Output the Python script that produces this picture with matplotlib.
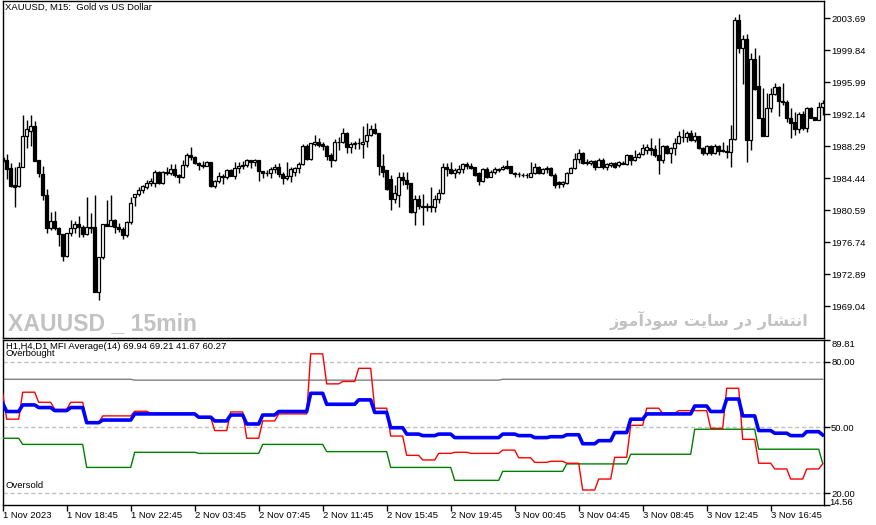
import numpy as np
import matplotlib
matplotlib.use("Agg")
import matplotlib.pyplot as plt

# ---------------- data: XAUUSD M15 candles ----------------
opens = [1986.85,1986.61,1985.65,1983.61,1983.49,1985.77,1989.50,1990.10,1990.70,1986.61,
         1984.93,1982.40,1978.43,1979.27,1978.43,1977.71,1975.06,1977.83,1978.43,1978.91,
         1978.55,1977.71,1978.55,1978.55,1970.73,1974.94,1978.91,1978.67,1979.39,1978.55,
         1978.31,1977.59,1979.15,1982.16,1982.52,1983.00,1983.37,1983.85,1983.85,1985.17,
         1983.85,1985.17,1985.05,1985.53,1984.81,1984.57,1986.01,1987.21,1986.97,1986.25,
         1986.01,1985.89,1986.37,1983.49,1984.09,1984.69,1984.57,1985.41,1984.69,1985.65,
         1985.89,1986.01,1986.61,1986.37,1986.61,1985.29,1985.05,1985.05,1985.53,1985.77,
         1984.93,1984.45,1984.69,1985.17,1985.65,1986.13,1988.30,1986.73,1988.54,1988.78,
         1988.54,1988.30,1987.21,1986.61,1988.78,1988.78,1989.86,1988.18,1988.54,1988.66,
         1988.54,1988.90,1989.62,1990.34,1989.86,1985.89,1985.41,1984.33,1981.92,1982.40,
         1984.57,1984.21,1983.85,1980.36,1981.92,1981.08,1981.02,1981.08,1981.02,1981.92,
         1982.64,1985.77,1985.53,1985.05,1985.17,1985.53,1986.13,1985.89,1985.77,1985.05,
         1984.09,1985.53,1984.57,1985.17,1985.41,1985.53,1985.89,1985.89,1985.05,1984.93,
         1984.81,1984.81,1984.57,1985.05,1985.77,1985.05,1985.53,1985.65,1984.81,1983.97,
         1983.73,1983.85,1985.05,1985.65,1986.73,1987.45,1986.37,1986.25,1986.49,1985.77,
         1986.61,1985.77,1986.01,1986.25,1986.01,1986.13,1986.13,1987.21,1986.61,1986.97,
         1987.33,1987.81,1988.06,1987.94,1987.21,1986.61,1988.30,1987.45,1988.06,1988.66,
         1989.38,1989.38,1989.86,1989.02,1989.50,1988.06,1987.45,1988.30,1987.45,1988.30,
         1987.81,1987.69,1987.57,1989.14,2003.45,2000.09,2001.17,1989.02,1998.76,1995.52,
         1991.67,1989.50,1992.87,1994.55,1995.40,1993.71,1993.59,1991.67,1991.18,1990.34,
         1992.15,1990.46,1992.87,1991.79,1991.42,1992.99]
highs = [1987.09,1987.33,1986.25,1985.77,1986.37,1992.03,1991.42,1992.03,1991.30,1986.61,
         1985.89,1983.13,1980.36,1980.48,1978.55,1977.71,1977.83,1979.39,1979.27,1979.88,
         1978.79,1982.16,1980.24,1982.40,1974.94,1978.91,1981.80,1982.40,1979.51,1979.03,
         1978.55,1979.27,1982.16,1982.52,1983.37,1983.61,1984.21,1984.45,1985.41,1985.29,
         1985.29,1985.77,1986.13,1986.13,1984.93,1986.61,1987.45,1988.18,1987.09,1986.37,
         1986.49,1986.49,1986.37,1984.21,1985.17,1984.93,1985.53,1985.53,1986.37,1986.37,
         1986.49,1986.73,1986.61,1986.73,1986.61,1985.29,1985.41,1985.77,1986.13,1986.25,
         1985.17,1986.37,1985.77,1985.77,1986.37,1988.54,1988.54,1988.66,1989.62,1989.26,
         1988.78,1988.42,1987.45,1989.14,1989.38,1990.46,1989.98,1988.78,1988.90,1989.26,
         1990.70,1991.06,1990.82,1991.06,1989.86,1987.33,1985.41,1984.81,1983.61,1985.17,
         1985.17,1985.17,1983.85,1982.40,1982.40,1982.52,1981.44,1983.37,1982.40,1983.13,
         1986.25,1986.25,1986.37,1985.65,1986.01,1986.25,1986.37,1986.25,1985.77,1985.17,
         1985.65,1985.77,1985.41,1985.77,1985.65,1986.01,1986.61,1985.89,1985.17,1985.17,
         1985.05,1985.05,1986.37,1986.25,1985.89,1985.65,1985.89,1985.77,1985.05,1984.09,
         1984.09,1985.17,1985.77,1987.45,1987.94,1987.57,1986.73,1986.61,1986.61,1986.85,
         1986.85,1986.25,1986.37,1986.37,1986.49,1986.49,1987.33,1987.21,1987.81,1987.57,
         1988.54,1988.54,1989.26,1988.42,1989.26,1988.42,1988.42,1988.18,1989.26,1990.10,
         1990.34,1990.10,1990.22,1989.98,1989.50,1988.18,1988.42,1988.42,1988.54,1988.42,
         1988.78,1988.42,1990.82,2003.82,2004.18,2001.65,2001.77,1999.48,2000.09,1999.24,
         1995.28,1994.67,1995.28,1995.88,1995.52,1995.88,1993.83,1992.87,1992.39,1992.39,
         1992.51,1992.99,1992.99,1991.79,1993.59,1993.83]
lows = [1986.25,1984.33,1983.37,1980.96,1983.37,1985.77,1988.06,1988.30,1986.49,1984.57,
        1981.80,1977.83,1978.19,1978.19,1976.27,1974.46,1974.94,1977.47,1977.83,1977.35,
        1977.35,1977.59,1977.83,1970.73,1969.77,1974.70,1978.67,1978.67,1977.83,1977.95,
        1977.11,1977.35,1978.91,1981.08,1982.28,1982.64,1983.13,1983.49,1983.37,1983.73,
        1983.73,1984.81,1984.81,1984.57,1983.85,1984.45,1985.77,1986.61,1986.13,1985.41,
        1985.65,1985.89,1983.37,1983.25,1983.85,1983.73,1984.33,1984.69,1984.33,1985.05,
        1985.53,1985.77,1985.65,1985.89,1984.09,1984.45,1984.69,1984.45,1985.05,1984.57,
        1983.73,1984.21,1983.97,1984.69,1985.05,1986.01,1986.61,1986.61,1988.30,1988.18,
        1987.81,1986.61,1985.77,1986.49,1987.81,1988.66,1987.45,1987.45,1987.94,1987.94,
        1986.85,1988.18,1989.50,1989.74,1984.81,1984.57,1983.00,1980.60,1981.44,1980.96,
        1983.61,1983.13,1980.24,1978.79,1980.72,1978.79,1980.48,1980.36,1980.36,1981.44,
        1982.52,1984.69,1984.93,1984.45,1984.93,1985.05,1985.53,1985.53,1984.69,1983.61,
        1983.97,1984.45,1984.57,1984.93,1985.17,1985.41,1985.53,1985.05,1984.57,1984.57,
        1984.57,1984.45,1984.57,1984.93,1984.93,1984.93,1985.05,1984.69,1983.25,1983.25,
        1983.37,1983.73,1985.05,1985.53,1986.25,1986.13,1986.01,1986.01,1985.41,1985.77,
        1985.53,1985.41,1985.77,1985.65,1985.77,1986.13,1986.01,1986.01,1986.49,1986.85,
        1987.21,1987.33,1987.21,1986.97,1984.93,1986.25,1987.33,1986.25,1987.21,1988.54,
        1988.78,1988.78,1988.90,1988.78,1987.94,1987.21,1987.21,1987.21,1987.33,1987.21,
        1987.57,1986.85,1985.77,1989.02,1999.48,1995.76,1986.37,1987.81,1995.03,1991.67,
        1989.50,1989.50,1992.39,1994.43,1991.91,1993.23,1991.18,1989.26,1989.62,1989.86,
        1990.22,1989.98,1991.67,1991.42,1991.42,1992.03]
closes = [1986.49,1985.53,1983.49,1983.37,1985.77,1989.50,1990.34,1990.70,1986.49,1985.05,
          1982.40,1978.43,1979.27,1978.43,1977.71,1975.06,1977.83,1978.43,1978.91,1978.55,
          1977.71,1978.55,1978.43,1970.73,1974.94,1978.91,1978.67,1979.39,1978.55,1978.31,
          1977.59,1979.15,1981.44,1982.52,1983.00,1983.49,1983.85,1984.09,1985.17,1983.85,
          1985.17,1985.05,1985.53,1984.81,1984.57,1986.01,1987.21,1986.97,1986.25,1986.01,
          1985.89,1986.37,1983.49,1984.09,1984.69,1984.57,1985.41,1984.69,1985.65,1985.89,
          1986.01,1986.61,1986.37,1986.61,1985.29,1985.05,1985.05,1985.53,1985.77,1984.93,
          1984.45,1984.69,1985.53,1985.65,1986.13,1988.30,1986.73,1988.66,1988.78,1988.42,
          1988.30,1987.09,1986.61,1988.78,1988.78,1989.86,1988.18,1988.54,1988.66,1988.66,
          1988.78,1989.62,1990.34,1989.86,1985.89,1985.17,1983.13,1981.92,1982.64,1984.57,
          1984.21,1983.73,1980.36,1981.92,1981.08,1981.02,1981.08,1981.02,1981.92,1982.64,
          1985.77,1985.53,1985.05,1985.41,1985.53,1986.13,1985.89,1985.65,1984.81,1984.09,
          1985.53,1984.57,1985.17,1985.53,1985.53,1985.77,1985.65,1985.05,1984.93,1984.89,
          1984.77,1984.85,1985.05,1985.77,1985.05,1985.53,1985.65,1984.81,1983.61,1983.73,
          1983.97,1985.05,1985.65,1986.73,1987.45,1986.25,1986.25,1986.49,1985.77,1986.61,
          1985.77,1986.13,1986.25,1985.77,1986.37,1986.25,1987.21,1986.61,1986.97,1987.33,
          1988.06,1988.18,1987.81,1987.21,1986.61,1988.30,1987.45,1988.06,1988.66,1989.50,
          1989.42,1989.86,1989.02,1989.50,1988.06,1987.45,1988.30,1987.45,1988.30,1987.69,
          1987.69,1987.57,1989.14,2003.45,2000.09,2001.17,1989.02,1998.76,1995.16,1991.67,
          1989.50,1992.87,1994.55,1995.40,1993.71,1993.59,1991.67,1991.06,1990.34,1992.15,
          1990.46,1992.87,1991.67,1991.42,1992.99,1993.47]

price_ticks = [2003.69, 1999.84, 1995.99, 1992.14, 1988.29, 1984.44, 1980.59, 1976.74, 1972.89, 1969.04]
price_range = (1965.20, 2005.74)

time_tick_idx = [0, 16, 32, 48, 64, 80, 96, 112, 128, 144, 160, 176, 192]
time_labels = ['1 Nov 2023', '1 Nov 18:45', '1 Nov 22:45', '2 Nov 03:45', '2 Nov 07:45',
               '2 Nov 11:45', '2 Nov 15:45', '2 Nov 19:45', '3 Nov 00:45', '3 Nov 04:45',
               '3 Nov 08:45', '3 Nov 12:45', '3 Nov 16:45']

# ---------------- data: MFI indicator (value holds from start index until next start) ----
h1_starts = [0,1,5,9,13,17,21,25,33,37,49,53,57,61,65,69,77,81,85,89,93,97,101,105,
             109,113,117,125,129,133,137,141,145,149,153,157,161,165,169,177,181,185,189,193,197,201,205]
h1_vals = [65.5,53.7,66.0,61.4,58.2,61.4,52.1,55.2,57.3,56.4,54.5,48.5,57.0,45.0,52.9,56.1,
           83.5,69.8,70.9,76.9,58.7,46.0,37.2,35.1,38.1,38.6,38.1,39.6,36.1,34.0,34.5,33.6,
           21.4,26.4,36.3,50.9,58.7,56.4,57.6,49.5,67.8,44.5,33.6,31.0,26.4,31.0,33.3]
h4_starts = [0,5,21,33,49,65,81,97,113,125,141,157,173,189,205]
h4_vals = [45.0,42.2,31.7,38.6,38.1,42.2,38.9,31.7,25.8,29.9,33.3,37.7,49.1,40.0,33.5]
d1_starts = [0,33,125]
d1_vals = [71.9,71.5,71.9]
avg_starts = [0,1,5,9,13,17,21,25,33,49,53,57,61,65,69,77,81,89,93,97,101,105,109,113,
              125,129,133,137,141,145,149,153,157,161,173,177,181,185,189,193,197,201,205]
avg_vals = [61.0,57.2,60.2,59.0,57.6,59.0,52.1,53.3,56.1,54.6,52.9,55.6,51.5,55.6,57.2,65.5,
            60.5,62.5,56.8,49.8,46.9,46.2,46.9,45.3,46.9,46.2,45.3,45.7,46.6,42.5,43.9,47.6,
            53.7,56.1,59.7,57.2,62.9,55.2,48.5,47.3,46.2,48.0,46.5]
levels = [20.0, 50.0, 80.0]
mfi_ticks = [14.56, 20.0, 50.0, 80.0, 89.81]
mfi_range = (14.56, 89.81)

header = "XAUUSD, M15:  Gold vs US Dollar"
ind_header = "H1,H4,D1 MFI Average(14) 69.94 69.21 41.67 60.27"
watermark_en = "XAUUSD _ 15min"
watermark_fa = "انتشار در سایت سودآموز"

# ---------------- helpers ----------------
n = len(closes)
x = np.arange(n)

def expand(starts, vals):
    out = np.empty(n)
    bounds = list(starts) + [n]
    for k, v in enumerate(vals):
        out[bounds[k]:bounds[k + 1]] = v
    return out

FORMS = {
    'ا': ('\uFE8D', '\uFE8E', None, None),
    'آ': ('\uFE81', '\uFE82', None, None),
    'ن': ('\uFEE5', '\uFEE6', '\uFEE7', '\uFEE8'),
    'ت': ('\uFE95', '\uFE96', '\uFE97', '\uFE98'),
    'ش': ('\uFEB5', '\uFEB6', '\uFEB7', '\uFEB8'),
    'ر': ('\uFEAD', '\uFEAE', None, None),
    'د': ('\uFEA9', '\uFEAA', None, None),
    'س': ('\uFEB1', '\uFEB2', '\uFEB3', '\uFEB4'),
    'ی': ('\uFEEF', '\uFEF0', '\uFEF3', '\uFEF4'),
    'و': ('\uFEED', '\uFEEE', None, None),
    'م': ('\uFEE1', '\uFEE2', '\uFEE3', '\uFEE4'),
    'ز': ('\uFEAF', '\uFEB0', None, None),
}

def shape_rtl(s):
    out = []
    for k, ch in enumerate(s):
        f = FORMS.get(ch)
        if f is None:
            out.append(ch)
            continue
        prev = s[k - 1] if k > 0 else None
        nxt = s[k + 1] if k + 1 < len(s) else None
        jp = prev in FORMS and FORMS[prev][2] is not None
        jn = f[2] is not None and nxt in FORMS
        out.append(f[3] if (jp and jn) else f[1] if jp else f[2] if jn else f[0])
    return ''.join(reversed(out))

FONT = 'Liberation Sans'
FS = 6.8
plt.rcParams['font.family'] = [FONT, 'DejaVu Sans']

W, H = 876, 525
fig = plt.figure(figsize=(W / 100, H / 100), dpi=100)
fig.patch.set_facecolor('white')

left = 2.5 / W
width = 821.0 / W
ax = fig.add_axes([left, 1 - 338.3 / H, width, (338.3 - 1) / H])
axm = fig.add_axes([left, 1 - 505 / H, width, 165 / H], sharex=ax)

for a in (ax, axm):
    for s in a.spines.values():
        s.set_color('black')
        s.set_linewidth(1.0)
    a.yaxis.tick_right()
    a.tick_params(axis='y', direction='out', length=4, width=1, pad=1.5,
                  labelsize=FS, colors='black', left=False, right=True)

# ---------------- candles ----------------
o = np.array(opens); h = np.array(highs); l = np.array(lows); c = np.array(closes)
ax.vlines(x, l, h, color='black', linewidth=1.0, zorder=2)
up = c >= o
body_lo = np.minimum(o, c)
body_h = np.maximum(np.abs(c - o), 0.02)
ax.bar(x[up], body_h[up], bottom=body_lo[up], width=0.72, color='white',
       edgecolor='black', linewidth=0.9, zorder=3)
ax.bar(x[~up], body_h[~up], bottom=body_lo[~up], width=0.72, color='black',
       edgecolor='black', linewidth=0.9, zorder=3)

x_lo = -0.05
x_hi = (823.5 - 2.7) / 4.0
ax.set_xlim(x_lo, x_hi)
ax.set_ylim(*price_range)
ax.set_yticks(price_ticks)
ax.set_yticklabels([f"{v:.2f}" for v in price_ticks])
ax.tick_params(axis='x', bottom=False, labelbottom=False)

fig.text(5 / W, 1 - 3 / H, header, fontsize=FS, ha='left', va='top', color='black')
fig.text(8 / W, 1 - 330 / H, watermark_en, fontsize=16.6, fontweight='bold',
         color='#c2c2c2', ha='left', va='baseline', family=[FONT])
fig.text(808 / W, 1 - 320 / H, shape_rtl(watermark_fa), fontsize=11.6, fontweight='bold',
         color='#c2c2c2', ha='right', va='center', family=['DejaVu Sans'])

# ---------------- MFI panel ----------------
for lv in levels:
    axm.axhline(lv, color='#c0c0c0', linewidth=1.0, linestyle=(0, (3, 2)), zorder=1)
axm.plot(x, expand(d1_starts, d1_vals), color='#808080', linewidth=1.0, zorder=2)
axm.plot(x, expand(h4_starts, h4_vals), color='#008000', linewidth=1.0, zorder=3)
axm.plot(x, expand(h1_starts, h1_vals), color='#ff0000', linewidth=1.0, zorder=4)
axm.plot(x, expand(avg_starts, avg_vals), color='#0000ff', linewidth=2.6, zorder=5)

axm.set_ylim(*mfi_range)
axm.set_yticks(mfi_ticks)
axm.set_yticklabels(['' if k == 0 else f"{v:.2f}" for k, v in enumerate(mfi_ticks)])
lbls = axm.get_yticklabels()
lbls[-1].set_va('top')
# bottom-most value label sits just under the 20.00 label, as in the terminal
axm.annotate(f"{mfi_ticks[0]:.2f}", xy=(1.0, mfi_ticks[0]),
             xycoords=('axes fraction', 'data'), xytext=(4.1, -1.5),
             textcoords='offset points', fontsize=FS, ha='left', va='bottom',
             color='black', annotation_clip=False)

axm.set_xticks(time_tick_idx)
axm.set_xticklabels(time_labels)
axm.tick_params(axis='x', direction='out', length=4, width=1, pad=0.5,
                labelsize=FS, colors='black')
for t in axm.get_xticklabels():
    t.set_ha('left')

axm.text(0.004, 0.99, ind_header, transform=axm.transAxes, fontsize=FS,
         ha='left', va='top', color='black')
axm.text(0.004, 0.945, 'Overbought', transform=axm.transAxes, fontsize=FS,
         ha='left', va='top', color='black')
axm.text(0.004, 0.09, 'Oversold', transform=axm.transAxes, fontsize=FS,
         ha='left', va='bottom', color='black')

fig.savefig('out.png', dpi=100, facecolor='white')
